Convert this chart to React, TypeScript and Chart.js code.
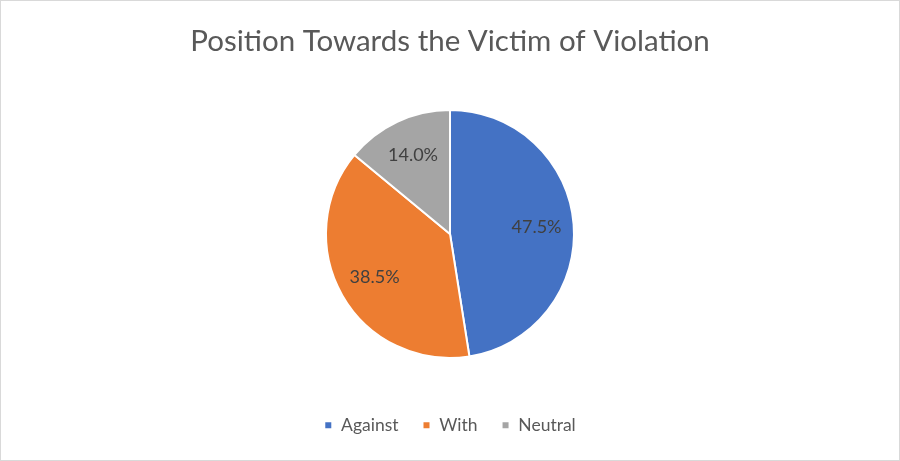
import React, { useEffect, useRef } from "react";
import { Chart, registerables } from "chart.js";

Chart.register(...registerables);

const titleText = "Position Towards the Victim of Violation";
const categories = ["Against", "With", "Neutral"];
const values = [47.5, 38.5, 14.0];
const colors = ["#4472C4", "#ED7D31", "#A5A5A5"];

const FONT = "Lato, 'Open Sans', sans-serif";

const labelPlugin = {
  id: "sliceLabels",
  afterDatasetsDraw(chart: any) {
    const ctx = chart.ctx;
    const meta = chart.getDatasetMeta(0);
    const ds = chart.data.datasets[0];
    ctx.save();
    ctx.font = `18px ${FONT}`;
    ctx.fillStyle = "#404040";
    ctx.textAlign = "center";
    ctx.textBaseline = "middle";
    meta.data.forEach((arc: any, i: number) => {
      const { x, y, startAngle, endAngle, outerRadius } = arc.getProps(
        ["x", "y", "startAngle", "endAngle", "outerRadius"],
        true
      );
      const mid = (startAngle + endAngle) / 2;
      const r = outerRadius * 0.7;
      ctx.fillText(
        `${Number(ds.data[i]).toFixed(1)}%`,
        x + Math.cos(mid) * r,
        y + Math.sin(mid) * r
      );
    });
    ctx.restore();
  },
};

export default function App() {
  const ref = useRef<HTMLCanvasElement | null>(null);
  useEffect(() => {
    document.body.style.margin = "0";
    if (!ref.current) return;
    const chart = new Chart(ref.current, {
      type: "pie",
      data: {
        labels: categories,
        datasets: [
          {
            data: values,
            backgroundColor: colors,
            borderColor: "#ffffff",
            borderWidth: 2,
            radius: 124,
          } as any,
        ],
      },
      options: {
        responsive: false,
        animation: false,
        layout: { padding: { top: 0, bottom: 16 } },
        plugins: {
          title: {
            display: true,
            text: titleText,
            color: "#595959",
            font: { family: FONT, size: 29.5, weight: "normal" },
            padding: { top: 23, bottom: 16 },
          },
          legend: {
            display: true,
            position: "bottom",
            labels: {
              color: "#595959",
              font: { family: FONT, size: 17.5 },
              boxWidth: 8,
              boxHeight: 8,
              padding: 24,
            },
          },
          tooltip: { enabled: false },
        },
      },
      plugins: [labelPlugin],
    });
    return () => chart.destroy();
  }, []);
  return (
    <div
      style={{
        position: "absolute",
        left: 0,
        top: 0,
        width: 900,
        height: 461,
        boxSizing: "border-box",
        border: "1px solid #d9d9d9",
        background: "#fff",
      }}
    >
      <canvas ref={ref} width={898} height={459} style={{ display: "block" }} />
    </div>
  );
}
